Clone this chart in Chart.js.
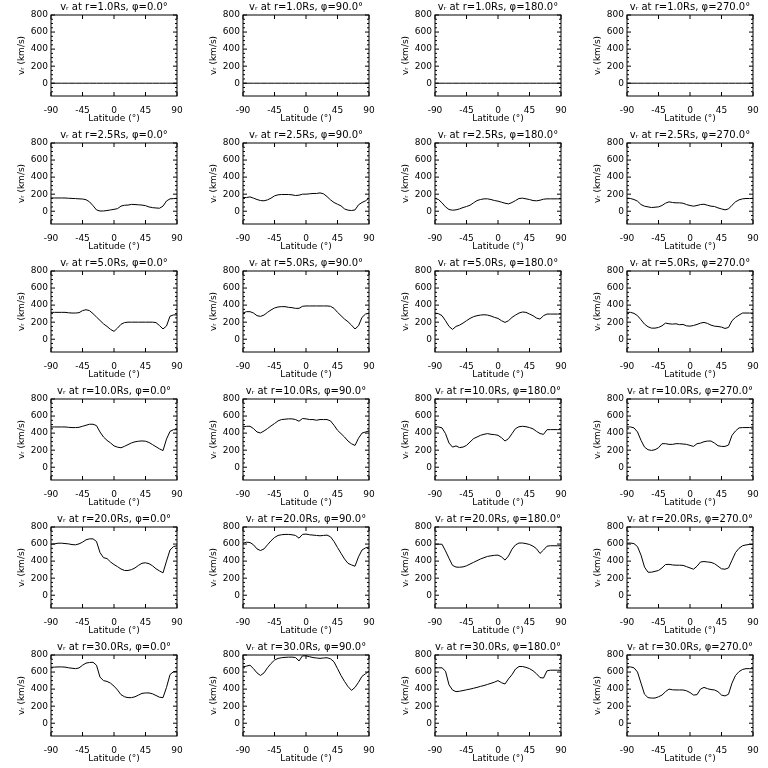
<!DOCTYPE html>
<html>
<head>
<meta charset="utf-8">
<script src="https://cdn.jsdelivr.net/npm/chart.js@4.4.1/dist/chart.umd.min.js"></script>
<style>
  html, body { margin: 0; padding: 0; background: #fff; }
  #grid { position: relative; width: 768px; height: 768px; background: #fff; }
  #grid canvas { position: absolute; }
</style>
</head>
<body>
<div id="grid"></div>
<script>
// latitude grid (deg), shared by every panel
const latitude = [-90, -85, -80, -75, -70, -65, -60, -55, -50, -45, -40, -35, -30, -25, -20, -15, -10, -5, 0,
  5, 10, 15, 20, 25, 30, 35, 40, 45, 50, 55, 60, 65, 70, 75, 80, 85, 90];

const radii = ['1.0', '2.5', '5.0', '10.0', '20.0', '30.0'];
const phis = ['0.0', '90.0', '180.0', '270.0'];
const xTicks = [-90, -45, 0, 45, 90];
const yTicks = [0, 200, 400, 600, 800];
const yMinor = [-100, -50, 50, 100, 150, 250, 300, 350, 450, 500, 550, 650, 700, 750];

// v_r (km/s), one array per panel
const vr1_0 = [0, 0, 0, 0, 0, 0, 0, 0, 0, 0, 0, 0, 0, 0, 0, 0, 0, 0, 0, 0, 0, 0, 0, 0, 0, 0, 0, 0, 0, 0, 0, 0, 0, 0, 0, 0, 0];
const vr1_90 = [0, 0, 0, 0, 0, 0, 0, 0, 0, 0, 0, 0, 0, 0, 0, 0, 0, 0, 0, 0, 0, 0, 0, 0, 0, 0, 0, 0, 0, 0, 0, 0, 0, 0, 0, 0, 0];
const vr1_180 = [0, 0, 0, 0, 0, 0, 0, 0, 0, 0, 0, 0, 0, 0, 0, 0, 0, 0, 0, 0, 0, 0, 0, 0, 0, 0, 0, 0, 0, 0, 0, 0, 0, 0, 0, 0, 0];
const vr1_270 = [0, 0, 0, 0, 0, 0, 0, 0, 0, 0, 0, 0, 0, 0, 0, 0, 0, 0, 0, 0, 0, 0, 0, 0, 0, 0, 0, 0, 0, 0, 0, 0, 0, 0, 0, 0, 0];

const vr25_0 = [155, 155, 155, 155, 155, 152, 150, 148, 145, 143, 135, 110, 65, 15, 2, 3, 8, 15, 22,
  30, 60, 70, 72, 80, 78, 75, 72, 65, 50, 42, 38, 35, 60, 120, 145, 148, 150];
const vr25_90 = [160, 160, 168, 153, 137, 125, 122, 133, 153, 180, 192, 196, 196, 196, 192, 184, 188, 200, 200,
  204, 208, 208, 215, 204, 172, 133, 102, 82, 63, 27, 12, 8, 15, 75, 102, 122, 153];
const vr25_180 = [150, 137, 98, 51, 20, 12, 16, 27, 43, 55, 70, 98, 125, 137, 145, 145, 137, 125, 118,
  106, 94, 86, 102, 125, 149, 153, 145, 137, 125, 122, 129, 141, 145, 145, 145, 145, 145];
const vr25_270 = [153, 149, 137, 118, 78, 59, 51, 43, 47, 51, 67, 94, 110, 102, 98, 98, 94, 78, 67,
  59, 67, 78, 82, 70, 59, 55, 39, 27, 16, 27, 70, 110, 133, 145, 149, 149, 150];

const vr5_0 = [315, 315, 315, 315, 315, 310, 307, 307, 311, 335, 346, 335, 300, 260, 220, 180, 150, 115, 92,
  130, 175, 195, 200, 200, 200, 200, 200, 200, 200, 200, 195, 160, 120, 155, 270, 285, 285];
const vr5_90 = [307, 323, 323, 307, 276, 268, 283, 315, 343, 366, 378, 382, 382, 374, 370, 362, 362, 386, 390,
  390, 390, 390, 390, 390, 390, 386, 362, 315, 276, 236, 205, 165, 120, 157, 256, 295, 307];
const vr5_180 = [307, 299, 276, 217, 150, 115, 150, 165, 189, 217, 244, 264, 276, 283, 287, 283, 272, 256, 244,
  217, 197, 217, 256, 283, 307, 319, 315, 295, 276, 248, 236, 276, 295, 295, 295, 295, 295];
const vr5_270 = [315, 315, 303, 276, 228, 177, 146, 130, 130, 138, 157, 189, 181, 177, 181, 170, 173, 157, 153,
  161, 173, 189, 197, 185, 165, 153, 149, 142, 126, 138, 217, 256, 283, 307, 307, 307, 307];

const vr10_0 = [472, 472, 472, 472, 472, 468, 465, 465, 468, 480, 492, 504, 504, 488, 413, 354, 315, 285, 250,
  235, 228, 245, 265, 285, 298, 305, 308, 305, 290, 265, 240, 215, 195, 330, 420, 440, 440];
const vr10_90 = [472, 480, 480, 453, 413, 402, 425, 453, 484, 512, 543, 559, 563, 567, 567, 559, 539, 571, 567,
  559, 559, 551, 559, 559, 559, 543, 492, 433, 394, 354, 307, 275, 255, 340, 400, 413, 425];
const vr10_180 = [472, 472, 461, 394, 283, 236, 250, 230, 236, 256, 295, 335, 354, 374, 386, 394, 386, 382, 374,
  346, 307, 335, 394, 453, 475, 480, 475, 465, 450, 420, 395, 385, 440, 441, 441, 441, 441];
const vr10_270 = [472, 472, 461, 413, 315, 236, 205, 197, 205, 228, 276, 276, 268, 268, 276, 276, 272, 268, 256,
  244, 276, 283, 299, 307, 307, 283, 252, 244, 244, 260, 374, 425, 461, 465, 465, 465, 472];

const vr20_0 = [598, 602, 610, 610, 606, 602, 594, 591, 602, 622, 650, 661, 661, 630, 500, 440, 430, 390, 360,
  335, 307, 290, 290, 300, 320, 350, 375, 380, 370, 345, 310, 285, 262, 400, 530, 570, 580];
const vr20_90 = [610, 622, 618, 591, 543, 524, 543, 591, 638, 677, 701, 709, 713, 713, 709, 701, 669, 713, 717,
  709, 705, 701, 697, 701, 705, 685, 630, 559, 492, 425, 374, 355, 340, 450, 530, 555, 565];
const vr20_180 = [598, 598, 598, 520, 433, 350, 330, 328, 332, 345, 365, 385, 405, 425, 440, 455, 462, 468, 470,
  450, 412, 460, 540, 590, 612, 612, 605, 595, 575, 545, 490, 530, 575, 580, 580, 580, 580];
const vr20_270 = [610, 612, 605, 570, 470, 330, 270, 270, 280, 290, 320, 360, 362, 355, 352, 352, 350, 335, 320,
  305, 340, 390, 395, 390, 385, 370, 340, 310, 305, 320, 410, 500, 550, 580, 590, 595, 595];

const vr30_0 = [655, 658, 660, 660, 658, 650, 645, 640, 648, 680, 705, 712, 715, 680, 540, 500, 490, 470, 435,
  390, 335, 310, 300, 300, 310, 330, 350, 355, 355, 345, 325, 305, 300, 420, 570, 605, 610];
const vr30_90 = [660, 670, 680, 640, 590, 560, 590, 650, 700, 740, 760, 768, 772, 775, 775, 770, 730, 790, 790,
  780, 770, 765, 760, 765, 768, 755, 720, 640, 560, 490, 430, 385, 420, 480, 550, 580, 610];
const vr30_180 = [650, 650, 650, 610, 450, 390, 370, 375, 383, 392, 400, 410, 420, 432, 442, 455, 468, 482, 500,
  475, 460, 520, 570, 635, 665, 665, 655, 640, 615, 580, 535, 530, 615, 622, 622, 622, 620];
const vr30_270 = [660, 660, 650, 600, 470, 340, 300, 295, 295, 310, 330, 370, 400, 392, 390, 390, 390, 380, 360,
  330, 335, 400, 420, 405, 395, 390, 370, 330, 320, 340, 470, 560, 605, 630, 640, 640, 640];

const panels = [
  [vr1_0, vr1_90, vr1_180, vr1_270],
  [vr25_0, vr25_90, vr25_180, vr25_270],
  [vr5_0, vr5_90, vr5_180, vr5_270],
  [vr10_0, vr10_90, vr10_180, vr10_270],
  [vr20_0, vr20_90, vr20_180, vr20_270],
  [vr30_0, vr30_90, vr30_180, vr30_270],
];

Chart.defaults.font.family = "'DejaVu Sans', sans-serif";
Chart.defaults.color = '#000';

// IDL-style frame: closed box with inward ticks on all four sides
const boxTicks = {
  id: 'boxTicks',
  afterDraw(chart) {
    const { ctx, chartArea: a, scales: { x, y } } = chart;
    ctx.save();
    ctx.strokeStyle = '#000';
    ctx.lineWidth = 1;
    ctx.strokeRect(a.left, a.top, a.right - a.left, a.bottom - a.top);
    ctx.beginPath();
    yTicks.forEach(v => {
      const p = y.getPixelForValue(v);
      ctx.moveTo(a.left, p); ctx.lineTo(a.left + 4, p);
      ctx.moveTo(a.right, p); ctx.lineTo(a.right - 4, p);
    });
    yMinor.forEach(v => {
      const p = y.getPixelForValue(v);
      ctx.moveTo(a.left, p); ctx.lineTo(a.left + 2, p);
      ctx.moveTo(a.right, p); ctx.lineTo(a.right - 2, p);
    });
    xTicks.forEach(v => {
      const p = x.getPixelForValue(v);
      ctx.moveTo(p, a.bottom); ctx.lineTo(p, a.bottom - 4);
      ctx.moveTo(p, a.top); ctx.lineTo(p, a.top + 4);
    });
    ctx.stroke();
    ctx.restore();
  }
};

const grid = document.getElementById('grid');

panels.forEach((row, r) => {
  row.forEach((values, c) => {
    const canvas = document.createElement('canvas');
    canvas.width = 192;
    canvas.height = 128;
    canvas.style.left = (c * 192) + 'px';
    canvas.style.top = (r * 128) + 'px';
    grid.appendChild(canvas);

    new Chart(canvas, {
      type: 'line',
      data: {
        datasets: [{
          data: latitude.map((lat, i) => ({ x: lat, y: values[i] })),
          borderColor: '#000',
          borderWidth: 1,
          pointRadius: 0,
          tension: 0,
          fill: false,
        }],
      },
      options: {
        responsive: false,
        animation: false,
        devicePixelRatio: 1,
        layout: { padding: { left: 16, right: 15, top: 0, bottom: 4 } },
        plugins: {
          legend: { display: false },
          tooltip: { enabled: false },
          title: {
            display: true,
            fullSize: false,
            text: 'vᵣ at r=' + radii[r] + 'Rs, φ=' + phis[c] + '°',
            font: { size: 10, weight: 'normal' },
            padding: { top: 1, bottom: 2 },
          },
        },
        scales: {
          x: {
            type: 'linear',
            min: -90,
            max: 90,
            afterBuildTicks: axis => { axis.ticks = xTicks.map(v => ({ value: v })); },
            afterFit: axis => { axis.height = 28; },
            grid: { display: false, drawTicks: false },
            border: { display: false },
            ticks: { font: { size: 9 }, padding: 9, maxRotation: 0, autoSkip: false },
            title: { display: true, text: 'Latitude (°)', font: { size: 9 }, padding: 0 },
          },
          y: {
            type: 'linear',
            min: -150,
            max: 800,
            afterBuildTicks: axis => { axis.ticks = yTicks.map(v => ({ value: v })); },
            afterFit: axis => { axis.width = 35; },
            grid: { display: false, drawTicks: false },
            border: { display: false },
            ticks: { font: { size: 9 }, padding: 3, autoSkip: false },
            title: { display: true, text: 'vᵣ (km/s)', font: { size: 9 }, padding: 0 },
          },
        },
      },
      plugins: [boxTicks],
    });
  });
});
</script>
</body>
</html>
